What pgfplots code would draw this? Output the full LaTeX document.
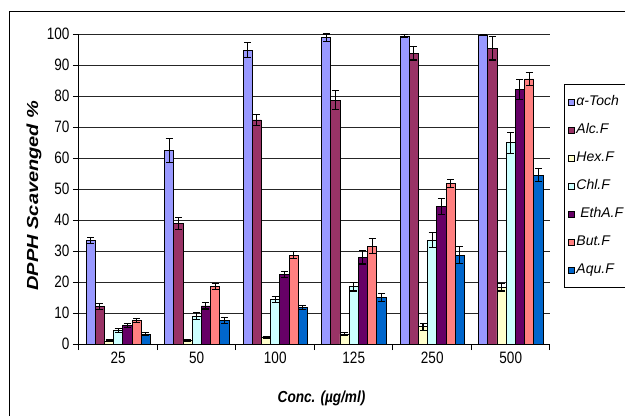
\documentclass[border=0pt]{standalone}
\usepackage{fontspec}
\setmainfont{Liberation Sans}
\newfontfamily\tickfont{Liberation Sans}[FakeStretch=0.82]
\newfontfamily\ylabfont{Liberation Sans}[FakeStretch=1.25]
\newfontfamily\xlabfont{Liberation Sans}[FakeStretch=0.85]
\usepackage{pgfplots}
\pgfplotsset{compat=1.18}
\definecolor{toch}{HTML}{9999FF}
\definecolor{alc}{HTML}{993366}
\definecolor{hex}{HTML}{FFFFCC}
\definecolor{chl}{HTML}{CCFFFF}
\definecolor{eth}{HTML}{660066}
\definecolor{but}{HTML}{FF8080}
\definecolor{aqu}{HTML}{0066CC}
\pgfplotsset{
  mylegend/.style={legend image code/.code={\draw[##1,line width=0.6pt] (0pt,-3pt) rectangle (5.5pt,3pt);}},
}
\begin{document}
\begin{tikzpicture}
\begin{axis}[
  at={(79pt,72pt)}, anchor=south west,
  scale only axis, width=471pt, height=310pt,
  xmin=-0.5, xmax=5.5, ymin=0, ymax=100,
  ybar=0pt, bar width=9.2pt,
  clip=false,
  axis x line=bottom, axis y line=left,
  axis line style={-, line width=1pt, black},
  tick align=outside, major tick length=6pt,
  tick style={black, line width=1pt},
  xtick={-0.5,0.5,...,5.5},
  xticklabels={25,50,100,125,250,500,{}},
  xticklabel style={xshift=39.25pt, anchor=center, yshift=-8pt},
  ytick={0,10,...,100},
  ymajorgrids, major grid style={black!85, line width=0.7pt},
  /pgf/number format/assume math mode=true,
  ticklabel style={font=\tickfont\fontsize{16.5}{17}\selectfont},
  xlabel={Conc. (µg/ml)},
  xlabel style={at={(axis description cs:0.515,-0.174)}, anchor=center, font=\xlabfont\bfseries\itshape\fontsize{16}{16}\selectfont},
  ylabel={DPPH Scavenged \%},
  ylabel style={at={(axis description cs:-0.0955,0.479)}, anchor=center, font=\ylabfont\bfseries\itshape\fontsize{16}{16}\selectfont},
  legend cell align=left,
  legend style={at={(1.0297,0.8387)}, anchor=north west, draw=black, line width=0.8pt,
    font=\fontsize{14}{14}\selectfont\itshape, row sep=15pt, inner xsep=4pt, inner ysep=11pt,
    nodes={inner xsep=2pt, inner ysep=0pt, text height=10pt, text depth=3pt}},
]
\addplot[fill=toch, draw=black, line width=0.7pt, mylegend, error bars/.cd, y dir=both, y explicit, error bar style={line width=1.1pt, black}, error mark options={rotate=90, mark size=3.5pt, line width=1.1pt, black}]
  coordinates {(0,33.5) +- (0,1.0) (1,62.4) +- (0,3.8) (2,94.8) +- (0,2.4) (3,98.8) +- (0,1.2) (4,99.3) +- (0,0.4) (5,99.6) +- (0,0.2)};
\addlegendentry{α-Toch}
\addplot[fill=alc, draw=black, line width=0.7pt, mylegend, error bars/.cd, y dir=both, y explicit, error bar style={line width=1.1pt, black}, error mark options={rotate=90, mark size=3.5pt, line width=1.1pt, black}]
  coordinates {(0,12.0) +- (0,1.0) (1,38.9) +- (0,2.0) (2,72.3) +- (0,1.7) (3,78.7) +- (0,3.0) (4,93.8) +- (0,2.2) (5,95.4) +- (0,3.8)};
\addlegendentry{Alc.F}
\addplot[fill=hex, draw=black, line width=0.7pt, mylegend, error bars/.cd, y dir=both, y explicit, error bar style={line width=1.1pt, black}, error mark options={rotate=90, mark size=3.5pt, line width=1.1pt, black}]
  coordinates {(0,1.0) +- (0,0.3) (1,1.1) +- (0,0.3) (2,2.1) +- (0,0.3) (3,3.2) +- (0,0.4) (4,5.6) +- (0,1.1) (5,18.3) +- (0,1.2)};
\addlegendentry{Hex.F}
\addplot[fill=chl, draw=black, line width=0.7pt, mylegend, error bars/.cd, y dir=both, y explicit, error bar style={line width=1.1pt, black}, error mark options={rotate=90, mark size=3.5pt, line width=1.1pt, black}]
  coordinates {(0,4.3) +- (0,0.7) (1,9.0) +- (0,1.1) (2,14.4) +- (0,0.9) (3,18.5) +- (0,1.4) (4,33.5) +- (0,2.4) (5,64.9) +- (0,3.4)};
\addlegendentry{Chl.F}
\addplot[fill=eth, draw=black, line width=0.7pt, mylegend, error bars/.cd, y dir=both, y explicit, error bar style={line width=1.1pt, black}, error mark options={rotate=90, mark size=3.5pt, line width=1.1pt, black}]
  coordinates {(0,6.0) +- (0,0.7) (1,12.3) +- (0,1.0) (2,22.5) +- (0,1.0) (3,28.0) +- (0,2.2) (4,44.3) +- (0,2.6) (5,82.1) +- (0,3.3)};
\addlegendentry{\ EthA.F}
\addplot[fill=but, draw=black, line width=0.7pt, mylegend, error bars/.cd, y dir=both, y explicit, error bar style={line width=1.1pt, black}, error mark options={rotate=90, mark size=3.5pt, line width=1.1pt, black}]
  coordinates {(0,7.6) +- (0,0.6) (1,18.5) +- (0,1.0) (2,28.7) +- (0,1.0) (3,31.6) +- (0,2.3) (4,51.8) +- (0,1.3) (5,85.5) +- (0,2.1)};
\addlegendentry{But.F}
\addplot[fill=aqu, draw=black, line width=0.7pt, mylegend, error bars/.cd, y dir=both, y explicit, error bar style={line width=1.1pt, black}, error mark options={rotate=90, mark size=3.5pt, line width=1.1pt, black}]
  coordinates {(0,3.2) +- (0,0.5) (1,7.5) +- (0,1.0) (2,11.8) +- (0,0.6) (3,15.0) +- (0,1.3) (4,28.7) +- (0,2.8) (5,54.5) +- (0,2.1)};
\addlegendentry{Aqu.F}
\end{axis}
\draw[line width=0.8pt] (9pt,0pt) -- (9pt,405pt) -- (625pt,405pt);
\pgfresetboundingbox
\useasboundingbox (0pt,0pt) rectangle (625pt,416pt);
\end{tikzpicture}
\end{document}
